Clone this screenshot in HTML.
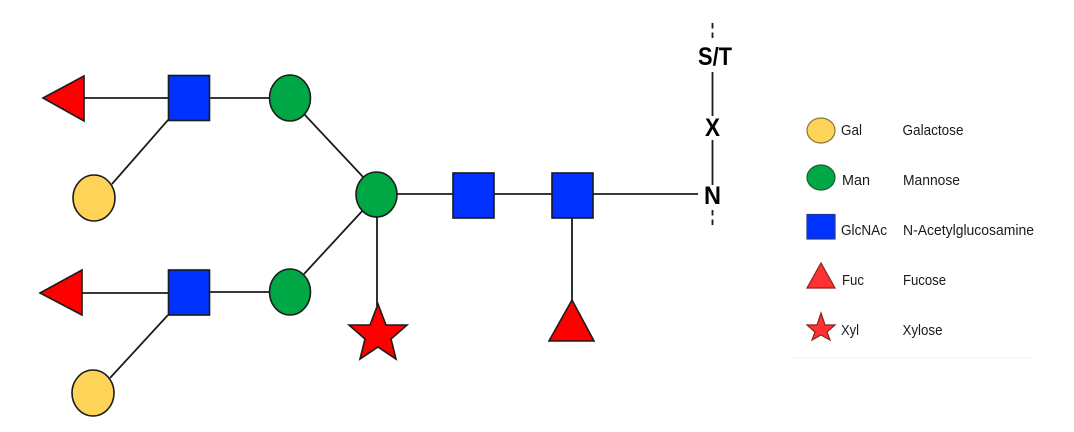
<!DOCTYPE html>
<html>
<head>
<meta charset="utf-8">
<style>
html,body{margin:0;padding:0;background:#fff;width:1074px;height:432px;overflow:hidden}
svg{display:block}
text{font-family:"Liberation Sans",sans-serif;fill:#1a1a1a}
.k{font-weight:bold;font-size:25px;fill:#000}
.l{font-size:14.5px}
</style>
</head>
<body>
<svg width="1074" height="432" viewBox="0 0 1074 432" xmlns="http://www.w3.org/2000/svg">
<defs><filter id="b" x="-2%" y="-2%" width="104%" height="104%"><feGaussianBlur stdDeviation="0.35"/></filter></defs>
<g filter="url(#b)">
<g stroke="#1c1c1c" stroke-width="1.8" fill="none">
<path d="M84 98H168M209 98H270M168 120L112 184M304 114L364 178"/>
<path d="M82 293H168M209 292H270M168 315L110 378M304 274L365 208"/>
<path d="M397 194H453M494 194H552M593 194H698"/>
<path d="M377 217V306M572 218V301"/>
<path d="M712.5 72V116M712.5 140V185"/>
<path d="M712.5 23V38M712.5 210V228" stroke-dasharray="5.500 4"/>
</g>
<g stroke="#1a1a1a" stroke-width="1.6">
<polygon points="43,98 84,76 84,121" fill="#fe0000"/>
<polygon points="40,293 82,270 82,315" fill="#fe0000"/>
<rect x="168.500" y="75.500" width="41" height="45" fill="#0433ff"/>
<rect x="168.500" y="270" width="41" height="45" fill="#0433ff"/>
<rect x="453" y="173" width="41" height="45" fill="#0433ff"/>
<rect x="552" y="173" width="41" height="45" fill="#0433ff"/>
<ellipse cx="290" cy="98" rx="20.500" ry="23" fill="#00a745"/>
<ellipse cx="290" cy="292" rx="20.500" ry="23" fill="#00a745"/>
<ellipse cx="376.500" cy="194.500" rx="20.500" ry="22.500" fill="#00a745"/>
<ellipse cx="94" cy="198" rx="21" ry="23" fill="#ffd258"/>
<ellipse cx="93" cy="393" rx="21" ry="23" fill="#ffd258"/>
<polygon points="378,304 386,325 407,325 391,339 396,359 378,347 360,359 365,339 349,325 370,325" fill="#fe0000"/>
<polygon points="572,300 594,341 549,341" fill="#fe0000"/>
</g>
<text class="k" x="698" y="65" textLength="34" lengthAdjust="spacingAndGlyphs">S/T</text>
<text class="k" x="705" y="136" textLength="15" lengthAdjust="spacingAndGlyphs">X</text>
<text class="k" x="704" y="204" textLength="17" lengthAdjust="spacingAndGlyphs">N</text>
<g stroke-width="1.2">
<ellipse cx="821" cy="130.500" rx="14" ry="12.500" fill="#ffd258" stroke="#8a7430"/>
<ellipse cx="821" cy="177.500" rx="14" ry="12.500" fill="#00a745" stroke="#1b5c35"/>
<rect x="807" y="214.500" width="28" height="24.500" fill="#0433ff" stroke="#223a90"/>
<polygon points="821,263 835,288 807,288" fill="#ff3333" stroke="#8c2020"/>
<polygon points="821,313 825,325 835,325 827,332 830,340 821,335 812,340 815,332 807,325 817,325" fill="#ff3333" stroke="#8c2020"/>
</g>
<g>
<text class="l" x="841" y="135" textLength="21" lengthAdjust="spacingAndGlyphs">Gal</text>
<text class="l" x="842" y="185" textLength="28" lengthAdjust="spacingAndGlyphs">Man</text>
<text class="l" x="841" y="235" textLength="46" lengthAdjust="spacingAndGlyphs">GlcNAc</text>
<text class="l" x="842" y="285" textLength="22" lengthAdjust="spacingAndGlyphs">Fuc</text>
<text class="l" x="841" y="335" textLength="18" lengthAdjust="spacingAndGlyphs">Xyl</text>
<text class="l" x="902.500" y="135" textLength="61" lengthAdjust="spacingAndGlyphs">Galactose</text>
<text class="l" x="903" y="185" textLength="57" lengthAdjust="spacingAndGlyphs">Mannose</text>
<text class="l" x="903" y="235" textLength="131" lengthAdjust="spacingAndGlyphs">N-Acetylglucosamine</text>
<text class="l" x="903" y="285" textLength="43" lengthAdjust="spacingAndGlyphs">Fucose</text>
<text class="l" x="902.500" y="335" textLength="40" lengthAdjust="spacingAndGlyphs">Xylose</text>
</g>
<path d="M790 357.500H1035" stroke="#f6f6f6" stroke-width="1"/>
</g>
</svg>
</body>
</html>
